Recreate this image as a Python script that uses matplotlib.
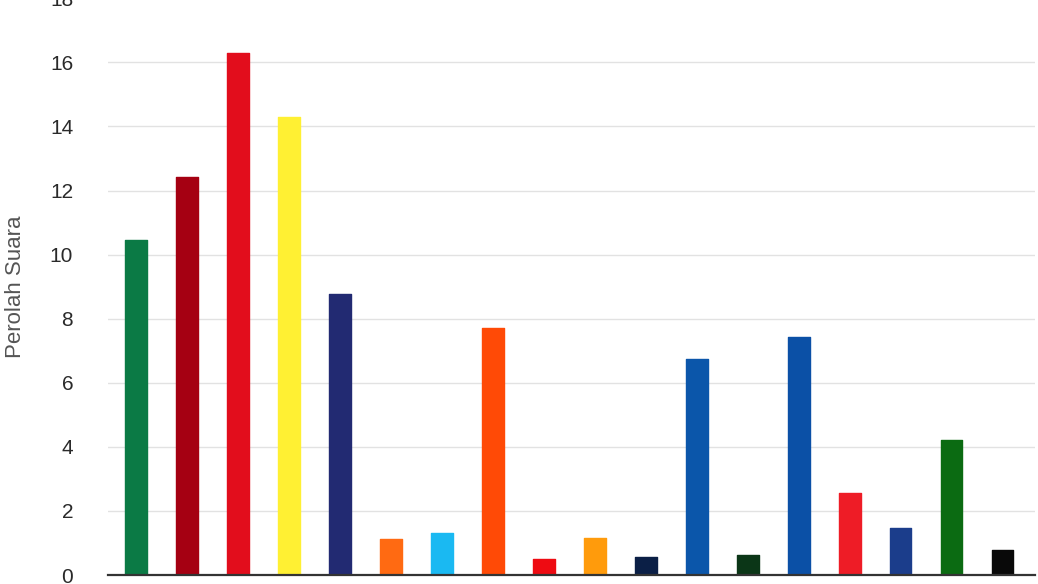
import matplotlib
matplotlib.use("Agg")
import matplotlib.pyplot as plt

plt.rcParams['font.family'] = ['Liberation Sans', 'DejaVu Sans']

# Data
positions = list(range(18))
values = [10.45, 12.43, 16.3, 14.3, 8.78, 1.12, 1.32, 7.70, 0.49, 1.16,
          0.56, 6.73, 0.62, 7.42, 2.57, 1.46, 4.20, 0.77]
colors = ['#0b7a45', '#a50012', '#e20d1c', '#fff033', '#222a72', '#ff6a12',
          '#1ab9f2', '#ff4a06', '#ee0b12', '#ff9b0c', '#0b1f46', '#0b56aa',
          '#0b3617', '#0b50a6', '#ee1c26', '#1b3d8b', '#0b6b12', '#090909']
y_ticks = [0, 2, 4, 6, 8, 10, 12, 14, 16, 18]
y_label = 'Perolah Suara'

fig = plt.figure(figsize=(10.38, 5.84), dpi=100)
ax = fig.add_axes([0.104, 0.0154, 0.893, 0.9875])

ax.bar(positions, values, width=0.42, color=colors, edgecolor=colors,
       linewidth=1.0, joinstyle='round', zorder=3)

ax.set_xlim(-0.55, 17.63)
ax.set_ylim(0, 18)
ax.set_yticks(y_ticks)
ax.set_yticklabels([str(t) for t in y_ticks])
ax.set_xticks([])
ax.tick_params(axis='y', length=0, pad=25, labelsize=15, labelcolor='#2a2a2a')
ax.yaxis.grid(True, color='#e2e2e2', linewidth=1.0, zorder=0)
ax.set_axisbelow(True)

for side in ['top', 'right', 'left']:
    ax.spines[side].set_visible(False)
ax.spines['bottom'].set_color('#333333')
ax.spines['bottom'].set_linewidth(1.6)
ax.spines['bottom'].set_zorder(4)

ax.set_ylabel(y_label, fontsize=16, color='#555555')
ax.yaxis.set_label_coords(-0.088, 0.5)

fig.savefig('out.png', dpi=100)
